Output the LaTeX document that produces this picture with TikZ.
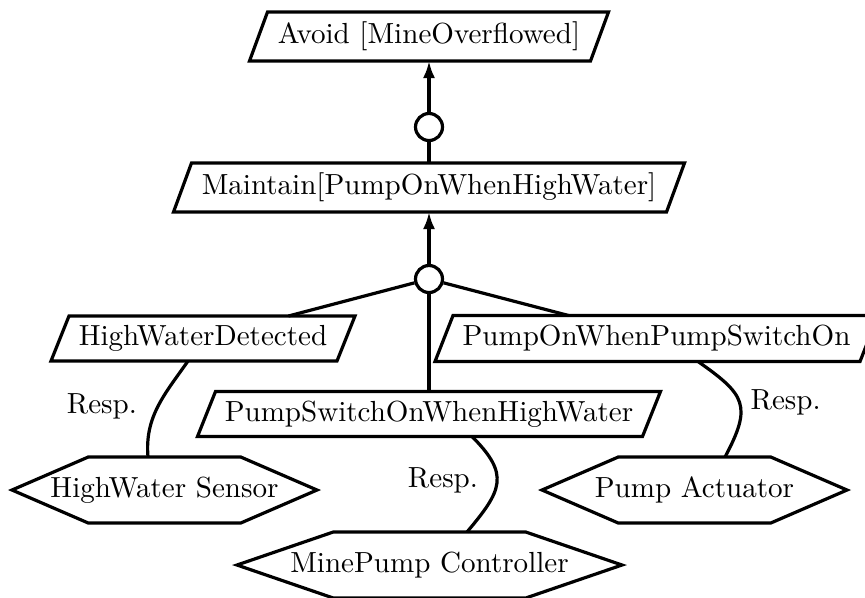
\documentclass[tikz,border=0pt]{standalone}
\usetikzlibrary{arrows.meta,calc}
\def\pu{0.344pt}
\tikzset{
  lw/.style={line width=3.2*\pu},
  goalbox/.style={rectangle, draw=none, inner sep=0pt, outer sep=0pt},
  agentbox/.style={rectangle, draw=none, inner sep=0pt, outer sep=0pt, minimum height=66*\pu},
  andnode/.style={circle, draw, lw, fill=white, inner sep=0pt, minimum size=27*\pu},
  conn/.style={lw},
  refine/.style={lw, -{Latex[length=17*\pu, width=12*\pu]}},
  resp/.style={lw, looseness=#1},
  resplabel/.style={inner sep=0pt, outer sep=0pt}
}
% goal: name, x, y, width, height, text
\newcommand\goalnode[6]{%
  \node[goalbox, minimum width=#4*\pu, minimum height=#5*\pu] (#1) at (#2,#3) {#6};
  \draw[lw] ([xshift=-9*\pu]#1.south west) -- ([xshift=-9*\pu]#1.south east)
    -- ([xshift=9*\pu]#1.north east) -- ([xshift=9*\pu]#1.north west) -- cycle;}
% agent: name, x, y, width, text
\newcommand\agentnode[5]{%
  \node[agentbox, minimum width=#4*\pu] (#1) at (#2,#3) {#5};
  \draw[lw] (#1.west) -- ($(#1.north west)!0.25!(#1.north east)$)
    -- ($(#1.north west)!0.75!(#1.north east)$) -- (#1.east)
    -- ($(#1.south west)!0.75!(#1.south east)$)
    -- ($(#1.south west)!0.25!(#1.south east)$) -- cycle;}
\begin{document}
\begin{tikzpicture}[x=\pu, y=-\pu]
\useasboundingbox (0,0) rectangle (865,597);
\clip (0,0) rectangle (865,597);

\goalnode{avoid}{429}{36.5}{341}{49}{Avoid [MineOverflowed]}
\goalnode{maintain}{429}{187.5}{493}{49}{Maintain[PumpOnWhenHighWater]}
\goalnode{hwd}{203}{338.5}{286}{45}{HighWaterDetected}
\goalnode{pumpon}{656.5}{338.5}{425}{46}{PumpOnWhenPumpSwitchOn}
\goalnode{ps}{429}{414}{445}{45}{PumpSwitchOnWhenHighWater}

\agentnode{sensor}{164.5}{490}{305}{HighWater Sensor}
\agentnode{act}{694.5}{490}{305}{Pump Actuator}
\agentnode{ctrl}{429.5}{565}{385}{MinePump Controller}

\node[andnode] (c1) at (429,127) {};
\node[andnode] (c2) at (429,279) {};

\draw[refine] (c1) -- (avoid);
\draw[conn] (maintain) -- (c1);
\draw[refine] (c2) -- (maintain);
\draw[conn] (c2) -- (hwd);
\draw[conn] (c2) -- (pumpon);
\draw[conn] (c2) -- (ps);

\draw[resp=1] ([xshift=-15*\pu]hwd.south) to[out=-125, in=95]
  node[resplabel, pos=0.5, anchor=east, xshift=-21*\pu] {Resp.}
  ([xshift=-16.5*\pu]sensor.north);
\draw[resp=1.5] ([xshift=41.5*\pu]pumpon.south) to[out=-35, in=62]
  node[resplabel, pos=0.5, anchor=west, xshift=11*\pu] {Resp.}
  ([xshift=30.5*\pu]act.north);
\draw[resp=1.45] ([xshift=43*\pu]ps.south) to[out=-45, in=50]
  node[resplabel, pos=0.5, anchor=east, xshift=-19*\pu, yshift=3*\pu] {Resp.}
  ([xshift=37.5*\pu]ctrl.north);
\end{tikzpicture}
\end{document}
